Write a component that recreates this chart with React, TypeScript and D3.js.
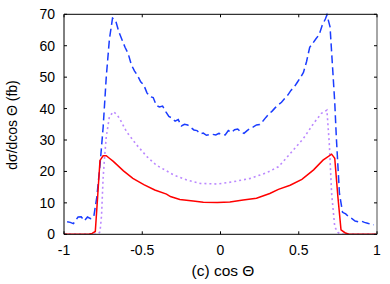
import React from "react";
import * as d3 from "d3";

const blueX = [-0.98,-0.96,-0.94,-0.91,-0.89,-0.87,-0.85,-0.83,-0.81,-0.79,-0.77,-0.75,-0.73,-0.71,-0.69,-0.67,-0.65,-0.63,-0.61,-0.59,-0.57,-0.55,-0.53,-0.51,-0.49,-0.47,-0.45,-0.43,-0.41,-0.39,-0.37,-0.35,-0.33,-0.31,-0.29,-0.27,-0.25,-0.23,-0.21,-0.19,-0.17,-0.15,-0.13,-0.11,-0.09,-0.07,-0.05,-0.03,-0.01,0.01,0.03,0.05,0.07,0.09,0.11,0.13,0.15,0.17,0.19,0.21,0.23,0.25,0.27,0.29,0.31,0.33,0.35,0.37,0.39,0.41,0.43,0.45,0.47,0.49,0.51,0.53,0.55,0.57,0.59,0.61,0.63,0.65,0.67,0.68,0.70,0.71,0.72,0.73,0.74,0.76,0.78,0.80,0.82,0.84,0.86,0.88,0.90,0.92,0.94,0.96,0.98];
const blueY = [4.0,3.8,3.4,5.5,5.6,4.3,5.5,5.0,5.5,12,22,34,50,62,68.8,68,64.5,62,59.5,57.5,54,52,50.5,48.5,47.5,45,43.8,43.5,41,40.5,40.8,39,37.5,37,36,36.5,34.5,35,34.8,34,33.2,33,32,32.2,31.5,31.7,31.8,31.6,32.1,31.8,31.6,33,32.4,33.3,33.5,32.5,32.1,33,33.7,34.2,34.8,34.9,36,37.2,38.3,39.2,40.3,41.2,42,43.2,44.3,45.8,46.8,48.3,49.8,51.5,55,59.5,60.8,62.2,63.5,66.5,68.5,69.8,66,58,50,42,31,13,7,6.5,5.5,5.0,4.2,4.0,4.2,3.8,3.5,3.2,3.0];

const purpleX = [-1,-0.8,-0.78,-0.77,-0.76,-0.75,-0.74,-0.73,-0.71,-0.685,-0.66,-0.64,-0.6,-0.535,-0.47,-0.41,-0.335,-0.3,-0.215,-0.13,-0.02,0.08,0.19,0.295,0.37,0.4,0.465,0.53,0.595,0.645,0.68,0.695,0.71,0.73,0.75,0.77,1];
const purpleY = [0,0,0.2,0.8,6,18,25,31,37.4,39,38,36.4,32.6,28.4,24.7,22,19.9,18.9,17.3,16.2,16.0,16.7,17.8,19.6,21.5,23.1,26.8,30.5,35.3,38.5,39.5,29,13,2.4,0.6,0,0];

const redX = [-1,-0.84,-0.82,-0.80,-0.785,-0.77,-0.75,-0.73,-0.71,-0.685,-0.62,-0.56,-0.49,-0.42,-0.345,-0.32,-0.26,-0.175,-0.11,-0.02,0.06,0.145,0.23,0.315,0.37,0.445,0.52,0.595,0.655,0.71,0.73,0.75,0.77,0.795,0.82,1];
const redY = [0,0,0.3,0.9,12,23.5,25,25,24.2,23.2,20.2,17.8,15.8,14.1,12.8,12,11.1,10.6,10.2,10.1,10.3,10.9,11.5,13,14.3,15.6,17.5,20.5,23.6,25.5,24.2,12,1.4,0.5,0,0];

const xTicks = [-1, -0.5, 0, 0.5, 1];
const xTickLabels = ["-1", "-0.5", "0", "0.5", "1"];
const yTicks = [0, 10, 20, 30, 40, 50, 60, 70];

const W = 390, H = 284;
const L = 64, R = 377, T = 14.3, B = 234.3;

export default function App() {
  const x = d3.scaleLinear().domain([-1, 1]).range([L, R]);
  const y = d3.scaleLinear().domain([0, 70]).range([B, T]);
  const line = d3.line<[number, number]>().x(d => x(d[0])).y(d => y(d[1]));
  const zip = (a: number[], b: number[]) => a.map((v, i) => [v, b[i]] as [number, number]);
  const font = "'Liberation Sans', Arial, sans-serif";
  return (
    <svg width={W} height={H} style={{ position: "absolute", left: 0, top: 0 }}>
      <rect width={W} height={H} fill="white" />
      <defs>
        <clipPath id="plot"><rect x={L} y={T - 2} width={R - L} height={B - T + 2} /></clipPath>
      </defs>
      <g clipPath="url(#plot)">
        <path d={line(zip(purpleX, purpleY)) || ""} fill="none" stroke="#bb88ff" strokeWidth={1.6} strokeDasharray="2,3" />
        <path d={line(zip(blueX, blueY)) || ""} fill="none" stroke="#1a3cff" strokeWidth={1.5} strokeDasharray="8,4" />
        <path d={line(zip(redX, redY)) || ""} fill="none" stroke="#ff0000" strokeWidth={1.5} />
      </g>
      <line x1={L} x2={R} y1={T} y2={T} stroke="#000" strokeWidth={1} />
      <line x1={L} x2={R} y1={B} y2={B} stroke="#000" strokeWidth={1} />
      <line x1={L} x2={L} y1={T} y2={B} stroke="#000" strokeWidth={1} />
      <line x1={R} x2={R} y1={T} y2={B} stroke="#888" strokeWidth={1.5} />
      {xTicks.map((t, i) => (
        <g key={"x" + i}>
          <line x1={x(t)} x2={x(t)} y1={B} y2={B - 3} stroke="#000" />
          <line x1={x(t)} x2={x(t)} y1={T} y2={T + 3} stroke="#000" />
          <text x={x(t)} y={B + 21} textAnchor="middle" fontSize={14} fontFamily={font} fill="#000">{xTickLabels[i]}</text>
        </g>
      ))}
      {yTicks.map((t, i) => (
        <g key={"y" + i}>
          <line x1={L} x2={L + 3} y1={y(t)} y2={y(t)} stroke="#000" />
          <line x1={R - 3} x2={R} y1={y(t)} y2={y(t)} stroke="#000" />
          <text x={L - 9} y={y(t) + 5} textAnchor="end" fontSize={14} fontFamily={font} fill="#000">{t}</text>
        </g>
      ))}
      <text x={223} y={275.5} textAnchor="middle" fontSize={15.5} fontFamily={font} fill="#000" style={{ whiteSpace: "pre" }}>(c) cos Θ</text>
      <text transform={`translate(17,125) rotate(-90)`} textAnchor="middle" fontSize={14} fontFamily={font} fill="#000">dσ/dcos Θ (fb)</text>
    </svg>
  );
}
